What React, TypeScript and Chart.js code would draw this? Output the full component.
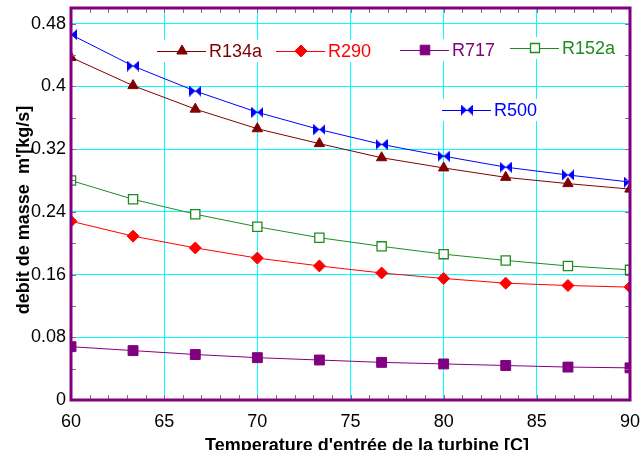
import React, { useEffect, useRef } from 'react';
import { Chart, registerables } from 'chart.js';

Chart.register(...registerables);

// ---- data ----
const temperatures = [60, 63.33, 66.67, 70, 73.33, 76.67, 80, 83.33, 86.67, 90];
const r134a = [0.437, 0.401, 0.371, 0.346, 0.327, 0.309, 0.296, 0.284, 0.276, 0.269];
const r290 = [0.228, 0.209, 0.194, 0.181, 0.171, 0.162, 0.155, 0.149, 0.146, 0.144];
const r717 = [0.068, 0.063, 0.058, 0.054, 0.051, 0.048, 0.046, 0.044, 0.042, 0.041];
const r152a = [0.280, 0.256, 0.237, 0.221, 0.207, 0.196, 0.186, 0.178, 0.171, 0.166];
const r500 = [0.466, 0.426, 0.394, 0.367, 0.345, 0.326, 0.311, 0.297, 0.287, 0.278];

const seriesNames = ['R134a', 'R290', 'R717', 'R152a', 'R500'];
const xTickValues = [60, 65, 70, 75, 80, 85, 90];
const xTickLabels = ['60', '65', '70', '75', '80', '85', '90'];
const yTickValues = [0, 0.08, 0.16, 0.24, 0.32, 0.4, 0.48];
const yTickLabels = ['0', '0.08', '0.16', '0.24', '0.32', '0.4', '0.48'];
const xMinorStep = 1;
const yMinorStep = 0.04;
const xMin = 60;
const xMax = 90;
const yMin = 0;
const yMax = 0.5;
const xTitle = "Temperature d'entrée de la turbine [C]";
const yTitle = "debit de masse  m'[kg/s]";

const FONT = '"Liberation Sans", Arial, sans-serif';

const colors = {
  R134a: '#800000',
  R290: '#ff0000',
  R717: '#800080',
  R152a: '#1e8c1e',
  R500: '#0000ff',
};

function makeBowtie(color: string) {
  const c = document.createElement('canvas');
  c.width = 12;
  c.height = 11;
  const g = c.getContext('2d')!;
  g.fillStyle = color;
  g.beginPath();
  g.moveTo(0, 0);
  g.lineTo(6, 5.5);
  g.lineTo(0, 11);
  g.closePath();
  g.moveTo(12, 0);
  g.lineTo(6, 5.5);
  g.lineTo(12, 11);
  g.closePath();
  g.fill();
  return c;
}

function drawMarker(ctx: CanvasRenderingContext2D, style: string, x: number, y: number, color: string, img?: HTMLCanvasElement) {
  ctx.save();
  ctx.fillStyle = color;
  ctx.strokeStyle = color;
  ctx.lineWidth = 1;
  ctx.beginPath();
  if (style === 'triangle') {
    const r = 6;
    ctx.moveTo(x, y - r);
    ctx.lineTo(x + 0.866 * r, y + 0.5 * r);
    ctx.lineTo(x - 0.866 * r, y + 0.5 * r);
    ctx.closePath();
    ctx.fill();
    ctx.stroke();
  } else if (style === 'diamond') {
    const r = 6;
    ctx.moveTo(x - r, y);
    ctx.lineTo(x, y - r);
    ctx.lineTo(x + r, y);
    ctx.lineTo(x, y + r);
    ctx.closePath();
    ctx.fill();
    ctx.stroke();
  } else if (style === 'square') {
    const s = 4.8;
    ctx.rect(x - s, y - s, 2 * s, 2 * s);
    ctx.fill();
    ctx.stroke();
  } else if (style === 'hollow') {
    const s = 4.5;
    ctx.fillStyle = '#ffffff';
    ctx.lineWidth = 1.3;
    ctx.rect(x - s, y - s, 2 * s, 2 * s);
    ctx.fill();
    ctx.stroke();
  } else if (style === 'bowtie' && img) {
    ctx.drawImage(img, x - img.width / 2, y - img.height / 2);
  }
  ctx.restore();
}

export default function App() {
  const canvasRef = useRef<HTMLCanvasElement | null>(null);

  useEffect(() => {
    const canvas = canvasRef.current;
    if (!canvas) return;
    const bowtie = makeBowtie(colors.R500);

    const legendItems = [
      { name: seriesNames[0], style: 'triangle', x0: 157, y: 51, color: colors.R134a },
      { name: seriesNames[1], style: 'diamond', x0: 276, y: 51, color: colors.R290 },
      { name: seriesNames[2], style: 'square', x0: 400, y: 50, color: colors.R717 },
      { name: seriesNames[3], style: 'hollow', x0: 510, y: 48, color: colors.R152a },
      { name: seriesNames[4], style: 'bowtie', x0: 442, y: 110, color: colors.R500 },
    ];

    const framePlugin = {
      id: 'frame',
      afterDatasetsDraw(chart: any) {
        const { ctx, chartArea: a } = chart;
        const xs = chart.scales.x;
        const ys = chart.scales.y;
        ctx.save();
        // minor ticks
        ctx.strokeStyle = '#a05aa0';
        ctx.lineWidth = 1;
        ctx.beginPath();
        for (let v = xMin + xMinorStep; v < xMax; v += xMinorStep) {
          const px = Math.round(xs.getPixelForValue(v)) + 0.5;
          ctx.moveTo(px, a.bottom);
          ctx.lineTo(px, a.bottom - 5);
          ctx.moveTo(px, a.top);
          ctx.lineTo(px, a.top + 5);
        }
        for (let k = 1; k * yMinorStep < yMax; k++) {
          const py = Math.round(ys.getPixelForValue(k * yMinorStep)) + 0.5;
          ctx.moveTo(a.left, py);
          ctx.lineTo(a.left + 5, py);
          ctx.moveTo(a.right, py);
          ctx.lineTo(a.right - 5, py);
        }
        ctx.stroke();
        // frame
        ctx.strokeStyle = '#800080';
        ctx.lineWidth = 3;
        ctx.strokeRect(a.left, a.top, a.right - a.left, a.bottom - a.top);

        // legend
        ctx.font = `18px ${FONT}`;
        ctx.textBaseline = 'middle';
        ctx.textAlign = 'left';
        for (const it of legendItems) {
          const tw = ctx.measureText(it.name).width;
          ctx.fillStyle = '#ffffff';
          ctx.fillRect(it.x0 - 2, it.y - 11, 52 + tw + 5, 22);
          ctx.strokeStyle = it.color;
          ctx.lineWidth = 1;
          ctx.beginPath();
          ctx.moveTo(it.x0, it.y + 0.5);
          ctx.lineTo(it.x0 + 49, it.y + 0.5);
          ctx.stroke();
          drawMarker(ctx, it.style, it.x0 + 25, it.y, it.color, bowtie);
          ctx.fillStyle = it.color;
          ctx.fillText(it.name, it.x0 + 52, it.y + 1);
        }

        // axis titles
        ctx.fillStyle = '#000000';
        ctx.font = `bold 18px ${FONT}`;
        ctx.textAlign = 'center';
        ctx.textBaseline = 'alphabetic';
        ctx.fillText(xTitle, 367, 451);
        ctx.translate(28.5, 210);
        ctx.rotate(-Math.PI / 2);
        ctx.fillText(yTitle, 0, 0);
        ctx.restore();
      },
    };

    const mk = (vals: number[]) => temperatures.map((t, i) => ({ x: t, y: vals[i] }));

    const chart = new Chart(canvas, {
      type: 'line',
      data: {
        datasets: [
          {
            label: seriesNames[2], data: mk(r717), borderColor: colors.R717, backgroundColor: colors.R717,
            pointStyle: 'rect', pointRadius: 7, pointBorderWidth: 1, borderWidth: 1,
            pointBackgroundColor: colors.R717, pointBorderColor: colors.R717,
          },
          {
            label: seriesNames[1], data: mk(r290), borderColor: colors.R290, backgroundColor: colors.R290,
            pointStyle: 'rectRot', pointRadius: 6, pointBorderWidth: 1, borderWidth: 1,
            pointBackgroundColor: colors.R290, pointBorderColor: colors.R290,
          },
          {
            label: seriesNames[3], data: mk(r152a), borderColor: colors.R152a, backgroundColor: '#ffffff',
            pointStyle: 'rect', pointRadius: 6.5, pointBorderWidth: 1.3, borderWidth: 1,
            pointBackgroundColor: '#ffffff', pointBorderColor: colors.R152a,
          },
          {
            label: seriesNames[0], data: mk(r134a), borderColor: colors.R134a, backgroundColor: colors.R134a,
            pointStyle: 'triangle', pointRadius: 6, pointBorderWidth: 1, borderWidth: 1,
            pointBackgroundColor: colors.R134a, pointBorderColor: colors.R134a,
          },
          {
            label: seriesNames[4], data: mk(r500), borderColor: colors.R500, backgroundColor: colors.R500,
            pointStyle: bowtie as any, pointRadius: 6, pointBorderWidth: 1, borderWidth: 1,
            pointBackgroundColor: colors.R500, pointBorderColor: colors.R500,
          },
        ],
      },
      options: {
        animation: false,
        responsive: false,
        events: [],
        layout: { padding: { top: 7, right: 10, left: 0, bottom: 0 } },
        plugins: { legend: { display: false }, tooltip: { enabled: false }, title: { display: false } },
        scales: {
          x: {
            type: 'linear',
            min: xMin,
            max: xMax,
            afterBuildTicks: (s: any) => { s.ticks = xTickValues.map((v) => ({ value: v })); },
            afterFit: (s: any) => { s.height = 50; s.paddingLeft = 0; s.paddingRight = 0; },
            grid: { color: '#00ffff', lineWidth: 1, drawTicks: false },
            border: { display: false },
            ticks: {
              padding: 11,
              maxRotation: 0,
              autoSkip: false,
              color: '#000000',
              font: { family: FONT, size: 18 },
              callback: (_v: any, i: number) => xTickLabels[i],
            },
          },
          y: {
            type: 'linear',
            min: yMin,
            max: yMax,
            afterBuildTicks: (s: any) => { s.ticks = yTickValues.map((v) => ({ value: v })); },
            afterFit: (s: any) => { s.width = 71; s.paddingTop = 0; s.paddingBottom = 0; },
            grid: { color: '#00ffff', lineWidth: 1, drawTicks: false },
            border: { display: false },
            ticks: {
              padding: 5,
              autoSkip: false,
              color: '#000000',
              font: { family: FONT, size: 18 },
              callback: (_v: any, i: number) => yTickLabels[i],
            },
          },
        },
      },
      plugins: [framePlugin],
    } as any);

    return () => chart.destroy();
  }, []);

  return (
    <div style={{ position: 'fixed', left: 0, top: 0, width: 640, height: 450, background: '#ffffff' }}>
      <canvas ref={canvasRef} width={640} height={450} style={{ display: 'block' }} />
    </div>
  );
}
